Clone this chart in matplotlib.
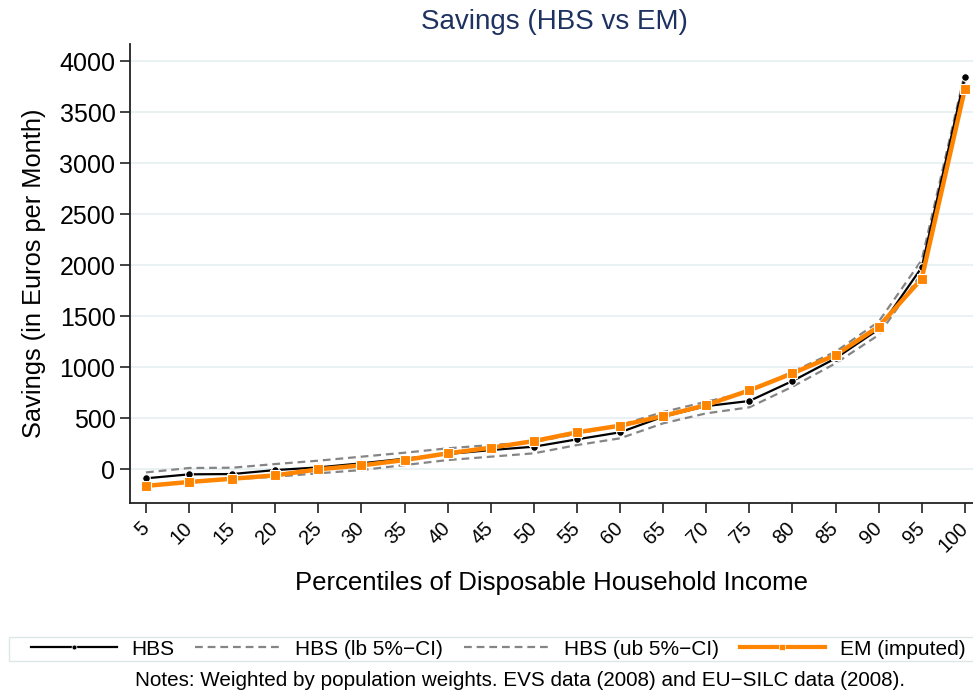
import matplotlib
matplotlib.use('Agg')
import matplotlib.pyplot as plt
from matplotlib.lines import Line2D
from matplotlib.patches import Rectangle

# percentiles of disposable household income
pct = [5, 10, 15, 20, 25, 30, 35, 40, 45, 50, 55, 60, 65, 70, 75, 80, 85, 90, 95, 100]

# savings in euros per month
hbs = [-91, -52, -49, -10, 16, 56, 101, 147, 186, 219, 291, 360, 513, 617, 667, 863, 1085, 1370, 1977, 3846]
hbs_lb = [-160, -125, -101, -75, -42, -10, 39, 88, 121, 154, 235, 301, 448, 546, 605, 807, 1036, 1314, 1920, 3800]
hbs_ub = [-33, 10, 13, 49, 82, 121, 160, 203, 235, 265, 345, 430, 559, 660, 758, 954, 1150, 1444, 2049, 3880]
em = [-165, -127, -95, -62, -3, 36, 88, 154, 209, 274, 360, 425, 520, 627, 771, 938, 1118, 1395, 1866, 3725]

yticks = [0, 500, 1000, 1500, 2000, 2500, 3000, 3500, 4000]

plt.rcParams['font.family'] = ['Liberation Sans', 'DejaVu Sans']

orange = '#ff8400'
grey = '#858585'
dash = (0, (3.5, 2.2))

fig = plt.figure(figsize=(9.73, 6.96), dpi=100)
ax = fig.add_axes([0.1336, 0.2773, 0.8664, 0.6595])

ax.plot(pct, hbs_lb, color=grey, lw=1.6, ls=dash, zorder=2)
ax.plot(pct, hbs_ub, color=grey, lw=1.6, ls=dash, zorder=2)
ax.plot(pct, hbs, color='black', lw=1.6, marker='o', ms=5.5,
        mfc='black', mec='white', mew=0.8, zorder=3)
ax.plot(pct, em, color=orange, lw=3.2, marker='s', ms=6.5,
        mfc=orange, mec='white', mew=0.8, zorder=4)

ax.set_xlim(3.14, 100.95)
ax.set_ylim(-333, 4167)
ax.set_xticks(pct)
ax.set_xticklabels([str(p) for p in pct], rotation=45, ha='right', va='center',
                   rotation_mode='anchor', fontsize=14.5)
ax.set_yticks(yticks)
ax.set_yticklabels([str(v) for v in yticks], fontsize=18)
ax.tick_params(axis='both', direction='out', length=7, width=1.2, color='#222222')
ax.tick_params(axis='x', pad=9)

ax.grid(axis='y', color='#e8f0f2', lw=1.3, zorder=0)
ax.set_axisbelow(True)
for s in ['top', 'right']:
    ax.spines[s].set_visible(False)
for s in ['left', 'bottom']:
    ax.spines[s].set_linewidth(1.3)
    ax.spines[s].set_color('#222222')

ax.set_ylabel('Savings (in Euros per Month)', fontsize=18.3, labelpad=10)
ax.set_xlabel('Percentiles of Disposable Household Income', fontsize=18.5, labelpad=11)
fig.text(0.570, 0.968, 'Savings (HBS vs EM)', ha='center', va='center',
         fontsize=20, color='#1e3261')

# legend frame drawn separately so it can be thin and wide
fig.patches.append(Rectangle((0.009, 0.050), 0.995, 0.035, transform=fig.transFigure,
                             fill=False, edgecolor='#dde6e8', lw=1.0))
handles = [
    Line2D([], [], color='black', lw=1.6, marker='o', ms=3.5, mec='white', mew=0.5),
    Line2D([], [], color=grey, lw=1.6, ls=dash),
    Line2D([], [], color=grey, lw=1.6, ls=dash),
    Line2D([], [], color=orange, lw=3.0, marker='s', ms=4.5, mec='white', mew=0.5),
]
labels = ['HBS', 'HBS (lb 5%\u2212CI)', 'HBS (ub 5%\u2212CI)', 'EM (imputed)']
fig.legend(handles, labels, loc='center', ncol=4,
           bbox_to_anchor=(0.512, 0.0675), fontsize=15, handlelength=4.1,
           handletextpad=0.7, columnspacing=1.0, frameon=False,
           borderaxespad=0, borderpad=0)

fig.text(0.534, 0.022, 'Notes: Weighted by population weights. EVS data (2008) and EU\u2212SILC data (2008).',
         ha='center', va='center', fontsize=14.9)

fig.savefig('out.png', dpi=100)
